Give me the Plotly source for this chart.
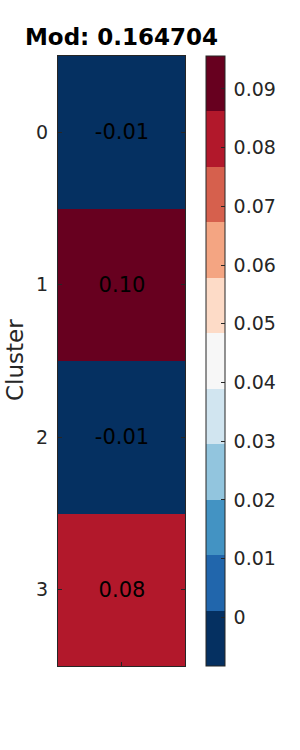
import plotly.graph_objects as go

clusters = ["0", "1", "2", "3"]
values = [-0.0083, 0.0956, -0.0083, 0.0810]
title_text = "Mod: 0.164704"
cbar_ticks = [0, 0.01, 0.02, 0.03, 0.04, 0.05, 0.06, 0.07, 0.08, 0.09]
cbar_ticklabels = ["0", "0.01", "0.02", "0.03", "0.04", "0.05", "0.06", "0.07", "0.08", "0.09"]
palette = ["#053061", "#2166ac", "#4393c3", "#92c5de", "#d1e5f0", "#f7f7f7",
           "#fddbc7", "#f4a582", "#d6604d", "#b2182b", "#67001f"]

n = len(palette)
colorscale = []
for i, c in enumerate(palette):
    colorscale.append([i / n, c])
    colorscale.append([(i + 1) / n, c])

W, H = 300, 750
L, R, T, B = 58, 115, 56, 84
pw = W - L - R

fig = go.Figure(go.Heatmap(
    z=[[v] for v in values],
    x=["c"],
    y=clusters,
    zmin=min(values), zmax=max(values),
    colorscale=colorscale,
    texttemplate="%{z:.2f}",
    textfont=dict(size=21, color="black", family="DejaVu Sans"),
    colorbar=dict(
        x=(206 - L) / pw, xanchor="left", xpad=0,
        y=0.5, yanchor="middle", len=1, lenmode="fraction", ypad=0,
        thickness=19, thicknessmode="pixels",
        outlinewidth=1, outlinecolor="#262626",
        tickvals=cbar_ticks, ticktext=["\u2009" + t for t in cbar_ticklabels],
        ticks="inside", ticklen=4, tickcolor="#262626",
        tickfont=dict(size=19, color="#262626", family="DejaVu Sans"),
    ),
    hoverinfo="skip",
))

fig.update_layout(
    width=W, height=H,
    margin=dict(l=L, r=R, t=T, b=B),
    paper_bgcolor="white", plot_bgcolor="white",
    title=dict(text="<b>" + title_text + "</b>", x=0.5, xref="paper",
               xanchor="center", y=1 - 37 / H, yanchor="middle", yref="container",
               font=dict(size=23, color="black", family="DejaVu Sans")),
    xaxis=dict(showticklabels=False, ticks="inside", ticklen=4, tickcolor="#262626",
               showline=True, mirror=True, linecolor="#262626", linewidth=1,
               showgrid=False, zeroline=False),
    yaxis=dict(autorange="reversed", ticks="inside", ticklen=4, tickcolor="#262626",
               showline=True, mirror="ticks", linecolor="#262626", linewidth=1,
               showgrid=False, zeroline=False, ticklabelstandoff=5,
               tickfont=dict(size=19, color="#262626", family="DejaVu Sans")),
    annotations=[dict(text="Cluster", xref="paper", yref="paper",
                      x=(15 - L) / pw, y=1 - (360 - T) / (H - T - B),
                      xanchor="center", yanchor="middle", textangle=-90, showarrow=False,
                      font=dict(size=23, color="#262626", family="DejaVu Sans"))],
)

fig.write_html("out.html")
